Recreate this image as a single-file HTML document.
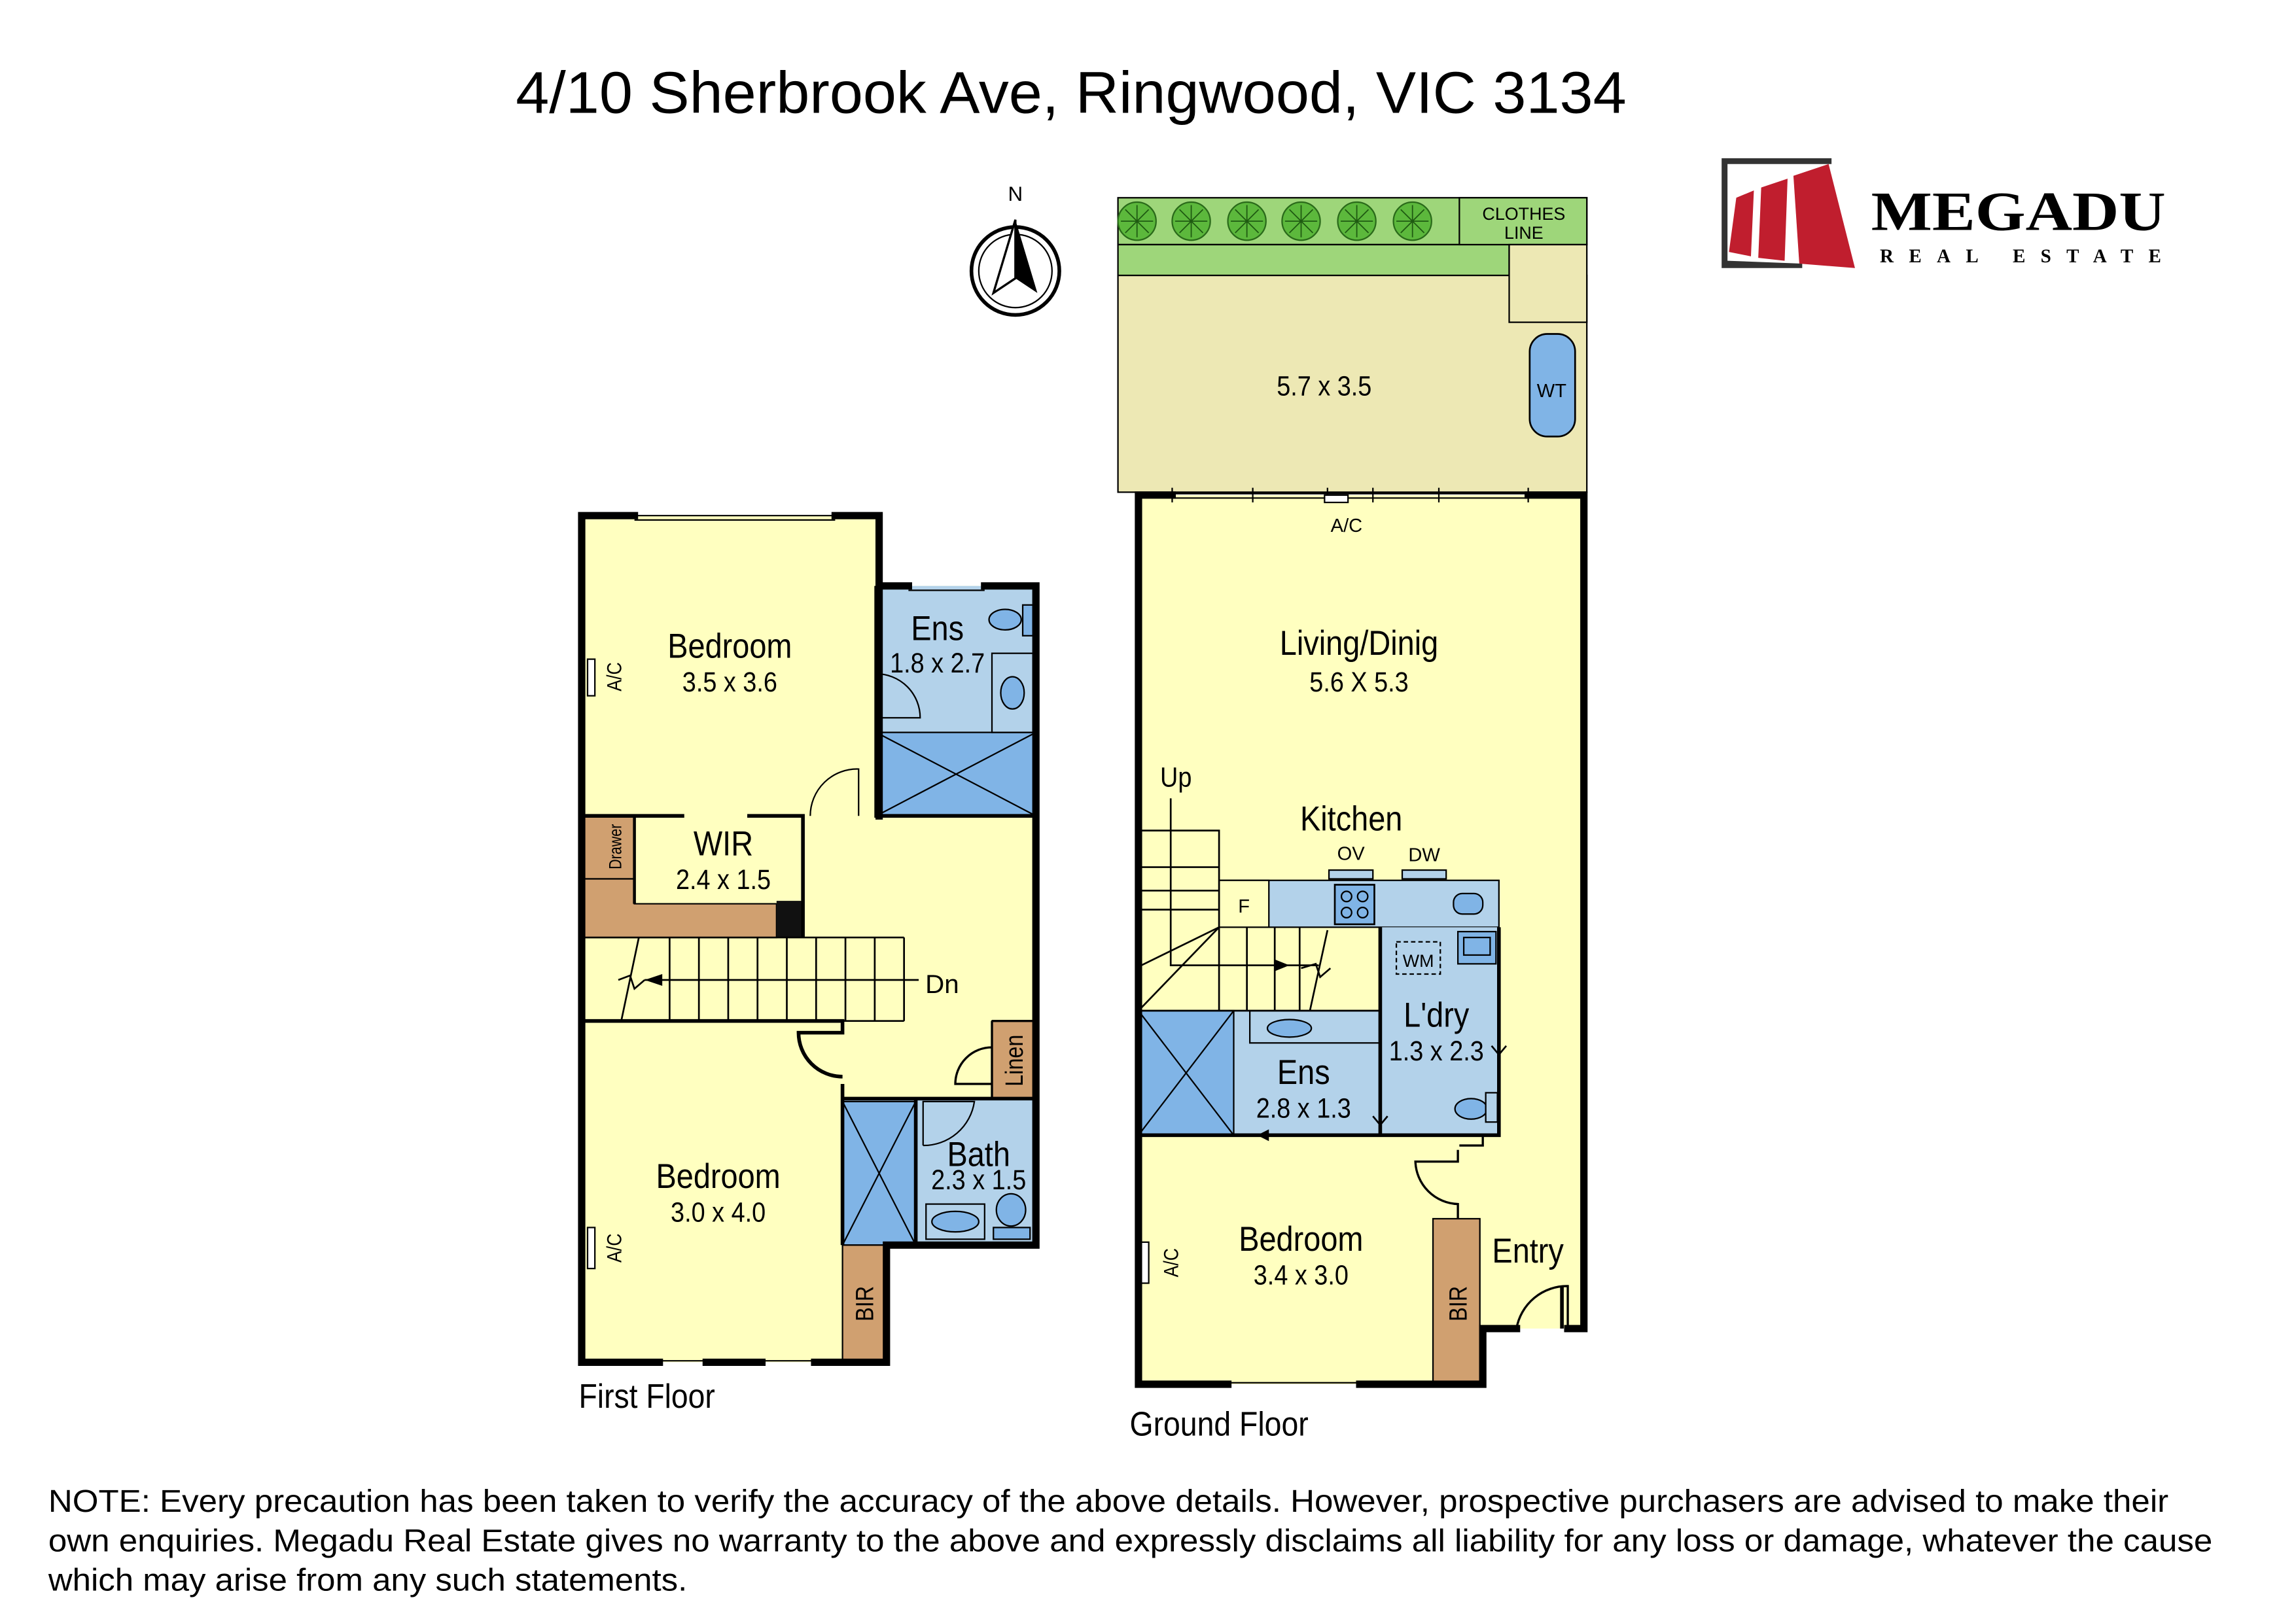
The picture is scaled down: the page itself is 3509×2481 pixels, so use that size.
<!DOCTYPE html>
<html><head><meta charset="utf-8"><style>
html,body{margin:0;padding:0;background:#fff}
svg{display:block}
text{font-family:"Liberation Sans",sans-serif;fill:#000}
</style></head><body>
<svg width="3509" height="2481" viewBox="0 0 1567 1108" preserveAspectRatio="none" xmlns="http://www.w3.org/2000/svg">
<rect width="1567" height="1108" fill="#fff"/>
<text x="352" y="77" font-size="40" textLength="758" lengthAdjust="spacingAndGlyphs">4/10 Sherbrook Ave, Ringwood, VIC 3134</text>

<!-- Logo -->
<g>
<path d="M1175 108 L1250 108 L1250 112 L1179 112 L1179 178 L1230 180 L1230 183 L1175 183 Z" fill="#333"/>
<path d="M1185 135 L1197 130 L1195 175 L1180 172 Z" fill="#c01e2e"/>
<path d="M1202 128 L1220 122 L1218 178 L1200 176 Z" fill="#c01e2e"/>
<path d="M1224 120 L1248 112 L1266 183 L1228 180 Z" fill="#c01e2e"/>
<text x="1277" y="157" font-size="38" font-weight="bold" style="font-family:'Liberation Serif',serif" textLength="201" lengthAdjust="spacingAndGlyphs">MEGADU</text>
<text x="1283" y="179" font-size="13" font-weight="bold" style="font-family:'Liberation Serif',serif" textLength="192" lengthAdjust="spacing">REAL ESTATE</text>
</g>

<!-- Compass -->
<g>
<text x="693" y="137" font-size="14" text-anchor="middle">N</text>
<circle cx="693" cy="185" r="30" fill="#fff" stroke="#000" stroke-width="2.5"/>
<circle cx="693" cy="185" r="25" fill="none" stroke="#000" stroke-width="1"/>
<path d="M693 150 L678 200 L693 190 Z" fill="#fff" stroke="#000" stroke-width="1.5"/>
<path d="M693 150 L708 200 L693 190 Z" fill="#000"/>
</g>

<!-- ================= FIRST FLOOR ================= -->
<g stroke="#000">
<path d="M397 352 L600 352 L600 400 L707 400 L707 850 L605 850 L605 930 L397 930 Z" fill="#ffffc0" stroke="none"/>
<rect x="598" y="400" width="109" height="100" fill="#b3d2ea" stroke-width="0"/>
<rect x="598" y="500" width="109" height="57" fill="#80b4e6" stroke-width="1"/>
<line x1="598" y1="500" x2="707" y2="557" stroke-width="1"/><line x1="707" y1="500" x2="598" y2="557" stroke-width="1"/>
<path d="M598 490 L628 490 A30 30 0 0 0 598 460" fill="#b3d2ea" stroke-width="1"/>
<rect x="677" y="446" width="28" height="54" fill="#b3d2ea" stroke-width="1"/>
<ellipse cx="691" cy="473" rx="8" ry="11" fill="#80b4e6" stroke-width="1"/>
<ellipse cx="686" cy="423" rx="11" ry="7" fill="#80b4e6" stroke-width="1"/>
<rect x="698" y="413" width="7" height="21" fill="#80b4e6" stroke-width="1"/>
<rect x="575" y="750" width="132" height="100" fill="#b3d2ea" stroke-width="0"/>
<rect x="575" y="752" width="50" height="98" fill="#80b4e6" stroke-width="1"/>
<line x1="575" y1="752" x2="625" y2="850" stroke-width="1"/><line x1="625" y1="752" x2="575" y2="850" stroke-width="1"/>
<path d="M630 782 L630 752 L665 752 A35 35 0 0 1 630 782" fill="#b3d2ea" stroke-width="1"/>
<rect x="632" y="822" width="40" height="24" fill="#b3d2ea" stroke-width="1"/>
<ellipse cx="652" cy="834" rx="16" ry="7" fill="#80b4e6" stroke-width="1"/>
<ellipse cx="690" cy="826" rx="10" ry="11" fill="#80b4e6" stroke-width="1"/>
<rect x="678" y="838" width="25" height="8" fill="#80b4e6" stroke-width="1"/>
<rect x="677" y="697" width="30" height="53" fill="#d0a070" stroke-width="1"/>
<rect x="575" y="850" width="30" height="80" fill="#d0a070" stroke-width="1"/>
<rect x="397" y="557" width="36" height="43" fill="#d0a070" stroke-width="1"/>
<path d="M397 600 L433 600 L433 617 L530 617 L530 640 L397 640 Z" fill="#d0a070" stroke-width="1"/>
<rect x="530" y="615" width="18" height="25" fill="#111" stroke-width="0"/>
<g stroke-width="1.2" fill="none">
<line x1="397" y1="640" x2="617" y2="640"/><line x1="397" y1="697" x2="617" y2="697"/>
<path d="M457 640 V697 M477 640 V697 M497 640 V697 M517 640 V697 M537 640 V697 M557 640 V697 M577 640 V697 M597 640 V697 M617 640 V697"/>
<line x1="440" y1="669" x2="627" y2="669"/>
<path d="M422 669 L430 666 L433 675 L440 669" />
<path d="M436 640 L424 697"/>
</g>
<path d="M440 669 L452 665 L452 673 Z" fill="#000" stroke="none"/>
<g fill="none" stroke-width="5" stroke-linecap="square">
<path d="M570 352 L600 352 L600 557 M433 352 L397 352 L397 930 L450 930 M482 930 L520 930 M556 930 L605 930 L605 850 L707 850 L707 400 L672 400 M620 400 L600 400"/>
</g>
<g stroke-width="2" fill="none">
<line x1="433" y1="352" x2="570" y2="352" stroke-width="1"/><line x1="433" y1="355" x2="570" y2="355" stroke-width="1"/>
<line x1="620" y1="403" x2="672" y2="403" stroke-width="1"/>
<line x1="450" y1="929" x2="482" y2="929" stroke-width="1"/><line x1="520" y1="929" x2="556" y2="929" stroke-width="1"/>
<path d="M397 557 L467 557 M510 557 L548 557 L548 640 M598 400 L598 557 L707 557" stroke-width="2.5"/>
<path d="M433 557 L433 617" stroke-width="2"/>
<path d="M586 557 L586 525 A32 32 0 0 0 553 557" stroke-width="1"/>
<path d="M397 697 L575 697 L575 705 L545 705 A30 30 0 0 0 575 735 M575 740 L575 850 M575 750 L707 750 M625 750 L625 850" stroke-width="2.5"/>
<path d="M677 697 L707 697 M677 697 L677 750 M677 715 A25 25 0 0 0 652 740 L677 740" stroke-width="1.5"/>
</g>
<rect x="401" y="450" width="5" height="25" fill="#fff" stroke-width="1"/>
<rect x="401" y="838" width="5" height="28" fill="#fff" stroke-width="1"/>
</g>
<g font-size="23.8" text-anchor="middle" transform="scale(0.88 1)">
<text x="566" y="449">Bedroom</text>
<text x="727" y="437">Ens</text>
<text x="561" y="584">WIR</text>
<text x="557" y="811">Bedroom</text>
<text x="759" y="796">Bath</text>
</g>
<g font-size="19.2" text-anchor="middle" transform="scale(0.88 1)">
<text x="566" y="472">3.5 x 3.6</text>
<text x="727" y="459">1.8 x 2.7</text>
<text x="561" y="607">2.4 x 1.5</text>
<text x="557" y="834">3.0 x 4.0</text>
<text x="759" y="812">2.3 x 1.5</text>
</g>
<text x="643" y="678" font-size="18" text-anchor="middle">Dn</text>
<text transform="translate(424 462) rotate(-90) scale(0.85 1)" font-size="14" text-anchor="middle">A/C</text>
<text transform="translate(424 852) rotate(-90) scale(0.85 1)" font-size="14" text-anchor="middle">A/C</text>
<text transform="translate(424 578) rotate(-90) scale(0.8 1)" font-size="12" text-anchor="middle">Drawer</text>
<text transform="translate(698 724) rotate(-90) scale(0.85 1)" font-size="17" text-anchor="middle">Linen</text>
<text transform="translate(596 890) rotate(-90) scale(0.85 1)" font-size="17" text-anchor="middle">BIR</text>
<text x="395" y="961" font-size="23" textLength="93" lengthAdjust="spacingAndGlyphs">First Floor</text>

<!-- ================= GROUND FLOOR ================= -->
<g stroke="#000">
<rect x="763" y="188" width="320" height="148" fill="#ede8b4" stroke-width="1"/>
<rect x="763" y="135" width="320" height="32" fill="#9ed67a" stroke-width="1"/>
<rect x="763" y="167" width="267" height="21" fill="#9ed67a" stroke-width="1"/>
<rect x="996" y="135" width="87" height="32" fill="#9ed67a" stroke-width="1"/>
<rect x="1030" y="167" width="53" height="53" fill="#ede8b4" stroke-width="1"/>
<rect x="1044" y="228" width="31" height="70" rx="12" fill="#80b4e6" stroke-width="1.2"/>
<g fill="#5cb83c" stroke="#2a6a1a" stroke-width="1">
<circle cx="776" cy="151" r="13"/><circle cx="813" cy="151" r="13"/><circle cx="851" cy="151" r="13"/><circle cx="888" cy="151" r="13"/><circle cx="926" cy="151" r="13"/><circle cx="964" cy="151" r="13"/>
</g>
<g stroke="#1f5a12" stroke-width="0.8">
<path d="M776 140 V162 M765 151 H787 M768 143 L784 159 M784 143 L768 159"/>
<path d="M813 140 V162 M802 151 H824 M805 143 L821 159 M821 143 L805 159"/>
<path d="M851 140 V162 M840 151 H862 M843 143 L859 159 M859 143 L843 159"/>
<path d="M888 140 V162 M877 151 H899 M880 143 L896 159 M896 143 L880 159"/>
<path d="M926 140 V162 M915 151 H937 M918 143 L934 159 M934 143 L918 159"/>
<path d="M964 140 V162 M953 151 H975 M956 143 L972 159 M972 143 L956 159"/>
</g>
<path d="M777 338 L1081 338 L1081 907 L1012 907 L1012 945 L777 945 Z" fill="#ffffc0" stroke="none"/>
<rect x="832" y="601" width="191" height="32" fill="#b3d2ea" stroke-width="1"/>
<rect x="832" y="601" width="34" height="32" fill="#ffffc0" stroke-width="1"/>
<rect x="907" y="594" width="30" height="6" fill="#b3d2ea" stroke-width="1"/>
<rect x="957" y="594" width="30" height="6" fill="#b3d2ea" stroke-width="1"/>
<rect x="911" y="604" width="27" height="27" fill="#80b4e6" stroke-width="1.2"/>
<g fill="none" stroke-width="1"><circle cx="919" cy="612" r="3.5"/><circle cx="930" cy="612" r="3.5"/><circle cx="919" cy="623" r="3.5"/><circle cx="930" cy="623" r="3.5"/></g>
<rect x="992" y="610" width="20" height="14" rx="6" fill="#80b4e6" stroke-width="1"/>
<rect x="942" y="633" width="81" height="142" fill="#b3d2ea" stroke-width="0"/>
<rect x="777" y="690" width="165" height="85" fill="#b3d2ea" stroke-width="0"/>
<rect x="777" y="690" width="65" height="85" fill="#80b4e6" stroke-width="1"/>
<line x1="777" y1="690" x2="842" y2="775" stroke-width="1"/><line x1="842" y1="690" x2="777" y2="775" stroke-width="1"/>
<rect x="853" y="690" width="89" height="22" fill="#b3d2ea" stroke-width="1"/>
<ellipse cx="880" cy="702" rx="15" ry="6" fill="#80b4e6" stroke-width="1"/>
<rect x="953" y="643" width="30" height="22" fill="none" stroke-width="1" stroke-dasharray="3 2"/>
<rect x="995" y="636" width="26" height="22" fill="#80b4e6" stroke-width="1"/>
<rect x="999" y="640" width="18" height="12" fill="#80b4e6" stroke-width="1"/>
<ellipse cx="1004" cy="757" rx="11" ry="7" fill="#80b4e6" stroke-width="1"/>
<rect x="1014" y="746" width="8" height="20" fill="#b3d2ea" stroke-width="1"/>
<rect x="978" y="832" width="32" height="113" fill="#d0a070" stroke-width="1"/>
<g fill="none" stroke-width="1.2">
<path d="M777 567 L832 567 L832 633 M777 592 L832 592 M777 608 L832 608 M777 621 L832 621"/>
<path d="M799 545 L799 659 L900 659"/>
<path d="M777 660 L832 633 L777 690"/>
<path d="M832 633 V690 M851 633 V690 M870 633 V690 M887 633 V690 M777 690 L942 690"/>
<path d="M888 661 L898 658 L901 667 L908 661"/>
<path d="M906 635 L894 690"/>
</g>
<path d="M880 659 L870 655 L870 663 Z" fill="#000" stroke="none"/>
<g fill="none" stroke-width="2.5">
<path d="M942 633 L942 775 M777 775 L1023 775 L1023 633 M1023 690 L1023 745"/>
<path d="M1012 775 L1012 782 L996 782 M995 785 L995 793 L966 793 A30 30 0 0 0 995 822 L995 832" stroke-width="1.5"/>
</g>
<path d="M942 750 L942 768 M937 762 L942 768 L947 762" fill="none" stroke-width="1.2"/>
<path d="M1023 702 L1023 720 M1018 714 L1023 720 L1028 714" fill="none" stroke-width="1.2"/>
<path d="M870 775 L858 775" fill="none" stroke-width="1.2"/>
<path d="M858 775 L866 771 L866 779 Z" fill="#000" stroke="none"/>
<g fill="none" stroke-width="5" stroke-linecap="square">
<path d="M800 338 L777 338 L777 945 L838 945 M928 945 L1012 945 L1012 907 L1035 907 M1070 907 L1081 907 L1081 338 L1043 338"/>
</g>
<path d="M1070 907 L1070 878 A35 35 0 0 0 1035 907" fill="none" stroke-width="1.5"/>
<path d="M1066 878 L1066 907" stroke-width="2.5"/>
<g stroke-width="1" fill="none">
<line x1="800" y1="337" x2="1043" y2="337"/><line x1="800" y1="340" x2="1043" y2="340"/>
<path d="M800 333 V343 M855 333 V343 M906 333 V343 M937 333 V343 M982 333 V343 M1043 333 V343"/>
<rect x="904" y="338" width="16" height="5" fill="#fff"/>
<line x1="838" y1="944" x2="928" y2="944"/>
</g>
<rect x="779" y="848" width="5" height="28" fill="#fff" stroke-width="1"/>
</g>
<g font-size="23.8" text-anchor="middle" transform="scale(0.88 1)">
<text x="1054" y="447">Living/Dinig</text>
<text x="1048" y="567">Kitchen</text>
<text x="1114" y="701">L'dry</text>
<text x="1011" y="740">Ens</text>
<text x="1009" y="854">Bedroom</text>
<text x="1185" y="862">Entry</text>
</g>
<g font-size="19.2" text-anchor="middle" transform="scale(0.88 1)">
<text x="1054" y="472">5.6 X 5.3</text>
<text x="1114" y="724">1.3 x 2.3</text>
<text x="1011" y="763">2.8 x 1.3</text>
<text x="1009" y="877">3.4 x 3.0</text>
<text x="1027" y="270">5.7 x 3.5</text>
<text x="912" y="537">Up</text>
</g>
<g font-size="13" text-anchor="middle">
<text x="922" y="587">OV</text><text x="972" y="588">DW</text>
<text x="849" y="623">F</text>
<text x="968" y="660" font-size="12">WM</text>
<text x="1059" y="271">WT</text>
<text x="919" y="363">A/C</text>
<text x="1040" y="150" font-size="12">CLOTHES</text>
<text x="1040" y="163" font-size="12">LINE</text>
</g>
<text transform="translate(804 862) rotate(-90) scale(0.85 1)" font-size="14" text-anchor="middle">A/C</text>
<text transform="translate(1001 890) rotate(-90) scale(0.85 1)" font-size="17" text-anchor="middle">BIR</text>
<text x="771" y="980" font-size="23" textLength="122" lengthAdjust="spacingAndGlyphs">Ground Floor</text>

<g font-size="21.5">
<text x="33" y="1032" textLength="1447" lengthAdjust="spacingAndGlyphs">NOTE: Every precaution has been taken to verify the accuracy of the above details. However, prospective purchasers are advised to make their</text>
<text x="33" y="1059" textLength="1477" lengthAdjust="spacingAndGlyphs">own enquiries. Megadu Real Estate gives no warranty to the above and expressly disclaims all liability for any loss or damage, whatever the cause</text>
<text x="33" y="1086" textLength="436" lengthAdjust="spacingAndGlyphs">which may arise from any such statements.</text>
</g>
</svg>
</body></html>
